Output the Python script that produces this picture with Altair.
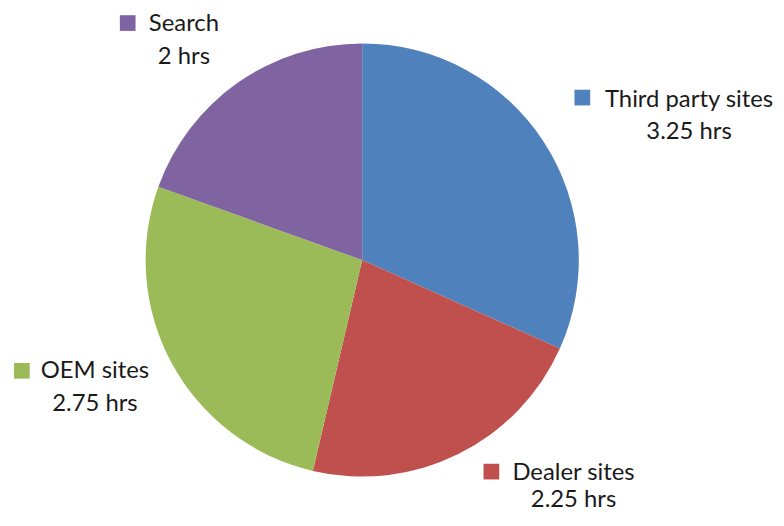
import altair as alt
import pandas as pd

# ---- data ----
categories = ["Third party sites", "Dealer sites", "OEM sites", "Search"]
hours = [3.25, 2.25, 2.75, 2.0]
value_labels = ["3.25 hrs", "2.25 hrs", "2.75 hrs", "2 hrs"]
colors = ["#4F81BD", "#C0504D", "#9BBB59", "#8064A2"]

# ---- layout / style ----
W, H = 713, 504          # plot area; pie centred in it
CX, CY = W / 2, H / 2
R = 218                  # pie radius
FONT = "Lato"
FONT_SIZE = 24
# label offsets (px) from the slice's mid-angle point on the rim
text_offsets = {
    "Third party sites": (146, -35.5),
    "Dealer sites": (116, 25.6),
    "OEM sites": (-77.5, 15),
    "Search": (-54, -51.7),
}
line_gaps = {
    "Third party sites": 32.5,
    "Dealer sites": 28,
    "OEM sites": 32.5,
    "Search": 32.5,
}
square_offsets = {
    "Third party sites": (38.6, -45),
    "Dealer sites": (33.3, 17.6),
    "OEM sites": (-151, 7.4),
    "Search": (-110.6, -60.2),
}

df = pd.DataFrame({
    "category": categories,
    "hours": hours,
    "value_label": value_labels,
    "order": list(range(len(categories))),
})

base = alt.Chart(df).transform_window(
    cum="sum(hours)", sort=[alt.SortField("order")], frame=[None, 0]
).transform_joinaggregate(
    total="sum(hours)"
).transform_calculate(
    ang="2*PI*(datum.cum - datum.hours/2)/datum.total",
).transform_calculate(
    ax=f"{CX} + {R}*sin(datum.ang)",
    ay=f"{CY} - {R}*cos(datum.ang)",
)

color_scale = alt.Scale(domain=categories, range=colors)

pie = alt.Chart(df).mark_arc(outerRadius=R).encode(
    theta=alt.Theta("hours:Q", stack=True),
    order=alt.Order("order:Q"),
    color=alt.Color("category:N", scale=color_scale, legend=None),
)

layers = [pie]
for c in categories:
    tdx, tdy = text_offsets[c]
    sdx, sdy = square_offsets[c]
    gap = line_gaps[c]
    sub = base.transform_filter(alt.datum.category == c).transform_calculate(
        tx=f"datum.ax + ({tdx})",
        ty=f"datum.ay + ({tdy})",
        ty2=f"datum.ay + ({tdy}) + {gap}",
        sx=f"datum.ax + ({sdx})",
        sy=f"datum.ay + ({sdy})",
    )
    sq = sub.mark_point(shape="square", filled=True, size=250, opacity=1).encode(
        x=alt.X("sx:Q", scale=None, axis=None),
        y=alt.Y("sy:Q", scale=None, axis=None),
        color=alt.Color("category:N", scale=color_scale, legend=None),
    )
    t1 = sub.mark_text(font=FONT, fontSize=FONT_SIZE, align="center",
                       baseline="alphabetic", color="#1a1a1a").encode(
        x=alt.X("tx:Q", scale=None, axis=None),
        y=alt.Y("ty:Q", scale=None, axis=None),
        text="category:N",
    )
    t2 = sub.mark_text(font=FONT, fontSize=FONT_SIZE, align="center",
                       baseline="alphabetic", color="#1a1a1a").encode(
        x=alt.X("tx:Q", scale=None, axis=None),
        y=alt.Y("ty2:Q", scale=None, axis=None),
        text="value_label:N",
    )
    layers += [sq, t1, t2]

chart = alt.layer(*layers).properties(
    width=W,
    height=H,
    autosize=alt.AutoSizeParams(type="none"),
    padding={"left": 0, "top": 0, "right": 60, "bottom": 2},
).configure_view(stroke=None)

chart.save("out.html", embed_options={"renderer": "svg", "actions": False})
